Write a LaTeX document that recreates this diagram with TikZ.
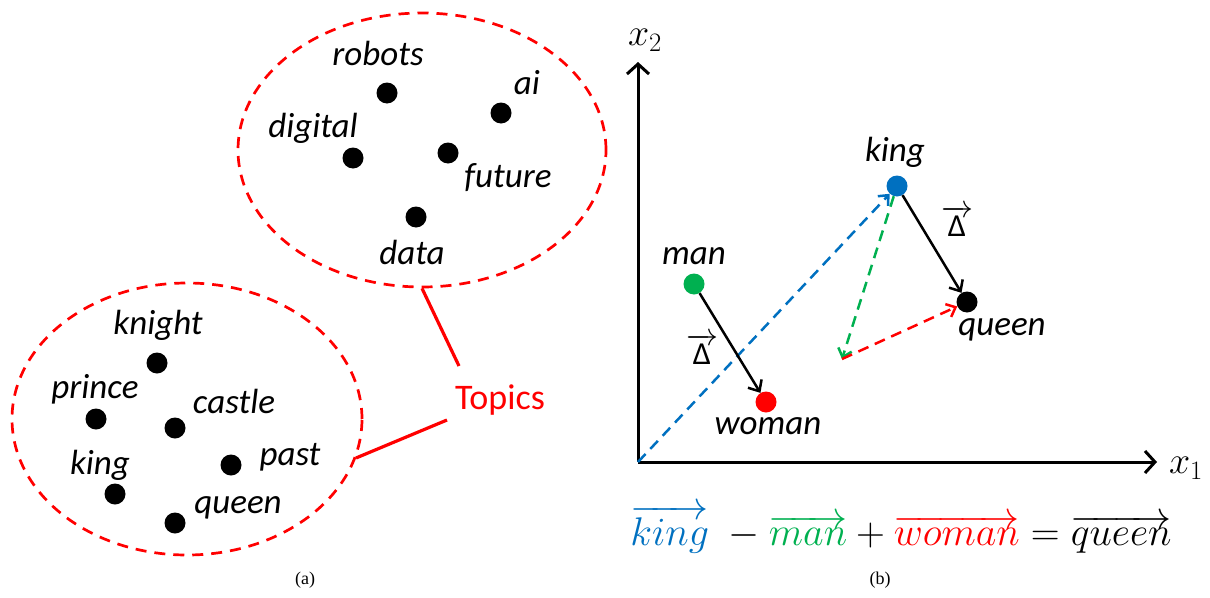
\RequirePackage{fix-cm}
\documentclass[tikz,border=0pt]{standalone}
\usepackage{fontspec}
\setmainfont{Carlito}
\newfontfamily\timesf{Liberation Serif}
\usetikzlibrary{arrows.meta,shapes.geometric}
\definecolor{oblue}{RGB}{0,112,192}
\definecolor{ogreen}{RGB}{0,176,80}
\definecolor{ored}{RGB}{255,0,0}
\begin{document}
\begin{tikzpicture}[x=1pt,y=-1pt,
  dot/.style={circle,fill=#1,inner sep=0pt,minimum size=21pt},
  dot/.default=black,
  lbl/.style={font=\fontsize{35}{40}\selectfont\itshape,inner sep=0pt},
  topicell/.style={draw=ored,line width=2.7pt,dash pattern=on 11pt off 8pt,ellipse,inner sep=0pt},
  topicline/.style={draw=ored,line width=3.2pt},
  arr/.style={line width=2.5pt,-{Straight Barb[length=9pt,width=16pt,line width=2.5pt]}},
  darr/.style={line width=2.5pt,dash pattern=on 11pt off 7pt,-{Straight Barb[length=8pt,width=14pt,line width=2.5pt]}},
  axis/.style={line width=3pt,-{Straight Barb[length=10pt,width=22pt,line width=3pt]}},
  captxt/.style={font=\timesf\fontsize{18}{20}\selectfont,inner sep=0pt},
  deltalbl/.style={font=\fontsize{32}{36}\selectfont,inner sep=0pt}
]
\useasboundingbox (0,0) rectangle (1210,597);

% ---------- (a) ----------
\node[topicell,minimum width=368pt,minimum height=274pt] (E1) at (422,150) {};
\node[topicell,minimum width=350pt,minimum height=272pt] (E2) at (187,419) {};

\node[dot] (robots) at (387,93) {};
\node[dot] (ai) at (501,113) {};
\node[dot] (digital) at (353,158) {};
\node[dot] (future) at (448,153) {};
\node[dot] (data) at (416,217) {};
\node[lbl] at (378,53) {robots};
\node[lbl] at (527,83) {ai};
\node[lbl] at (313,128) {digital};
\node[lbl] at (508,178) {future};
\node[lbl] at (412,252) {data};

\node[dot] (knight) at (157,363) {};
\node[dot] (prince) at (96,419) {};
\node[dot] (castle) at (175,428) {};
\node[dot] (past) at (231,465) {};
\node[dot] (kingA) at (115,494) {};
\node[dot] (queenA) at (175,523) {};
\node[lbl] at (158,325) {knight};
\node[lbl] at (95,389) {prince};
\node[lbl] at (234,401) {castle};
\node[lbl] at (290,457) {past};
\node[lbl] at (100,465) {king};
\node[lbl] at (238,508) {queen};

\node[font=\fontsize{36}{40}\selectfont,text=ored,inner sep=0pt] (topics) at (500,400) {Topics};
\coordinate (t1) at (459,366);
\coordinate (t2) at (447,420);
\coordinate (e2p) at (356,458);
\draw[topicline] (E1.south) -- (t1);
\draw[topicline] (e2p) -- (t2);

\node[captxt] at (305,580) {(a)};

% ---------- (b) ----------
\coordinate (O) at (638,462);
\coordinate (ytop) at (638,62);
\coordinate (xend) at (1157,462);
\draw[axis] (O) -- (ytop);
\draw[axis] (O) -- (xend);
\node[inner sep=0pt,font=\fontsize{38}{42}\selectfont] at (645,40) {$x_2$};
\node[inner sep=0pt,font=\fontsize{38}{42}\selectfont] at (1186,468) {$x_1$};

\node[dot=oblue] (king) at (897,186) {};
\node[dot=ogreen] (man) at (694,284) {};
\node[dot=ored] (woman) at (766,402) {};
\node[dot] (queen) at (967,302) {};
\node[lbl] at (895,152) {king};
\node[lbl] at (694,256) {man};
\node[lbl] at (768,426) {woman};
\node[lbl] at (1002,330) {queen};

\coordinate (g) at (842,359);
\draw[darr,oblue] (O) -- (king);
\draw[darr,ogreen] (king) -- (g);
\draw[darr,ored] (g) -- (queen);
\draw[arr] (man) -- (woman);
\draw[arr] (king) -- (queen);

\node[deltalbl] at (702,349) {$\overrightarrow{\hbox{Δ}}$};
\node[deltalbl] at (957,221) {$\overrightarrow{\hbox{Δ}}$};

\node[inner sep=0pt,font=\fontsize{40}{46}\selectfont] (eq) at (901,529)
  {$\textcolor{oblue}{\overrightarrow{king}}\;-\textcolor{ogreen}{\overrightarrow{man}}+\textcolor{ored}{\overrightarrow{woman}}=\overrightarrow{queen}$};

\node[captxt] at (880,580) {(b)};
\end{tikzpicture}
\end{document}
